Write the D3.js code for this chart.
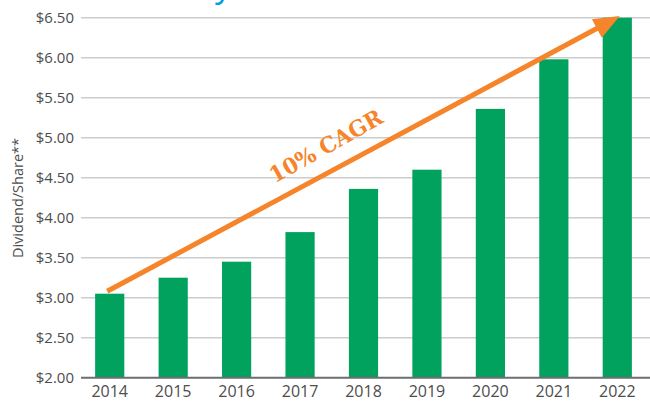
<!DOCTYPE html>
<html>
<head>
<meta charset="utf-8">
<script src="https://cdn.jsdelivr.net/npm/d3@7"></script>
<style>
  body { margin: 0; background: #fff; }
  svg { display: block; }
</style>
</head>
<body>
<div id="chart"></div>
<script>
// data
const years = ["2014", "2015", "2016", "2017", "2018", "2019", "2020", "2021", "2022"];
const dividends = [3.05, 3.25, 3.45, 3.82, 4.36, 4.60, 5.36, 5.98, 6.50];
const yTicks = [2.0, 2.5, 3.0, 3.5, 4.0, 4.5, 5.0, 5.5, 6.0, 6.5];
// trend arrow end points (year, value)
const trendYears = ["2014", "2022"];
const trendValues = [3.08, 6.52];
const trendLabel = "10% CAGR";

const width = 650, height = 402;

const svg = d3.select("#chart")
  .append("svg")
    .attr("width", width)
    .attr("height", height);

// cut-off title fragment at the top (clipped in the original too)
svg.append("text")
  .attr("x", 232)
  .attr("y", -3)
  .attr("text-anchor", "end")
  .attr("fill", "#00a0df")
  .style("font-family", "'Open Sans', sans-serif")
  .style("font-size", "34px")
  .text("y");

// scales
const x = d3.scaleBand()
  .domain(years)
  .range([78, 649])
  .paddingInner(0.54)
  .paddingOuter(0.27);

const y = d3.scaleLinear()
  .domain([2, 6.5])
  .range([377.7, 17.7]);

// grid lines
svg.append("g")
  .selectAll("line")
  .data(yTicks.slice(1))
  .join("line")
    .attr("x1", 81)
    .attr("x2", width)
    .attr("y1", d => y(d))
    .attr("y2", d => y(d))
    .attr("stroke", "#cccccc")
    .attr("stroke-width", 1.6);

// y axis labels
const yAxis = svg.append("g")
  .attr("transform", "translate(81,0)")
  .call(d3.axisLeft(y).tickValues(yTicks).tickSize(0).tickPadding(7).tickFormat(d => "$" + d3.format(".2f")(d)));
yAxis.select(".domain").remove();
yAxis.selectAll("text")
  .attr("fill", "#4d4d4d")
  .style("font-family", "'Open Sans', sans-serif")
  .style("font-size", "15px");

// bars
svg.append("g")
  .selectAll("rect")
  .data(years.map((yr, i) => ({ year: yr, value: dividends[i] })))
  .join("rect")
    .attr("x", d => x(d.year))
    .attr("y", d => y(d.value))
    .attr("width", x.bandwidth())
    .attr("height", d => y(2) - y(d.value))
    .attr("fill", "#00a25e");

// baseline
svg.append("line")
  .attr("x1", 81)
  .attr("x2", width)
  .attr("y1", y(2))
  .attr("y2", y(2))
  .attr("stroke", "#6d6e71")
  .attr("stroke-width", 2);

// x axis labels
const xAxis = svg.append("g")
  .attr("transform", `translate(0,${y(2)})`)
  .call(d3.axisBottom(x).tickSize(0).tickPadding(8));
xAxis.select(".domain").remove();
xAxis.selectAll("text")
  .attr("fill", "#4d4d4d")
  .style("font-family", "'Open Sans', sans-serif")
  .style("font-size", "16px");

// y axis title
svg.append("text")
  .attr("transform", "translate(23,198) rotate(-90)")
  .attr("text-anchor", "middle")
  .attr("fill", "#4d4d4d")
  .style("font-family", "'Open Sans', sans-serif")
  .style("font-size", "14.5px")
  .text("Dividend/Share**");

// trend arrow
const x0 = x(trendYears[0]) + x.bandwidth() / 2 - 2.5, y0 = y(trendValues[0]);
const x1 = x(trendYears[1]) + x.bandwidth() / 2 + 2.5, y1 = y(trendValues[1]);
const len = Math.hypot(x1 - x0, y1 - y0);
const ux = (x1 - x0) / len, uy = (y1 - y0) / len;
const headLen = 26, headHalf = 10.5;
const bx = x1 - ux * headLen, by = y1 - uy * headLen;

svg.append("line")
  .attr("x1", x0)
  .attr("y1", y0)
  .attr("x2", bx + ux * 2)
  .attr("y2", by + uy * 2)
  .attr("stroke", "#f5842a")
  .attr("stroke-width", 5);

svg.append("path")
  .attr("d", `M${x1},${y1}L${bx - uy * headHalf},${by + ux * headHalf}L${bx + uy * headHalf},${by - ux * headHalf}Z`)
  .attr("fill", "#f5842a");

// trend label
const angle = Math.atan2(y1 - y0, x1 - x0) * 180 / Math.PI;
svg.append("text")
  .attr("transform", `translate(326,146) rotate(${angle - 1})`)
  .attr("text-anchor", "middle")
  .attr("dy", "0.35em")
  .attr("fill", "#f5842a")
  .style("font-family", "'DejaVu Serif', serif")
  .style("font-weight", "bold")
  .style("font-size", "22px")
  .attr("textLength", 126)
  .attr("lengthAdjust", "spacingAndGlyphs")
  .text(trendLabel);
</script>
</body>
</html>
